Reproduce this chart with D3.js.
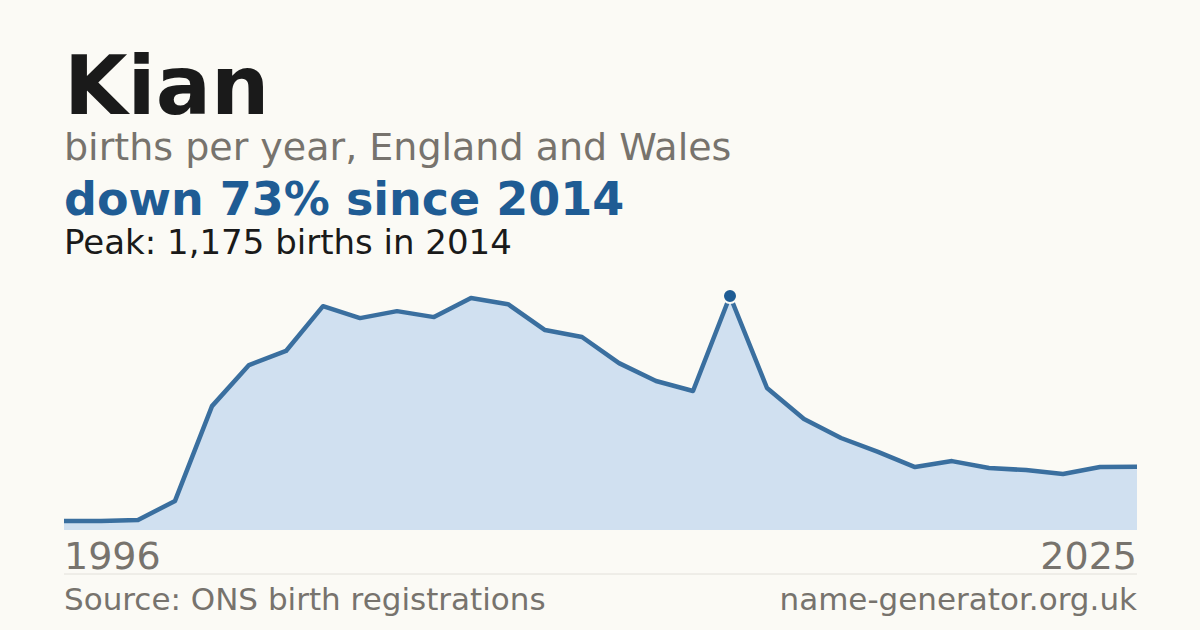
<!DOCTYPE html>
<html><head><meta charset="utf-8">
<script src="https://cdn.jsdelivr.net/npm/d3@7"></script>
<style>body{margin:0;background:#fbfaf5}</style></head>
<body><svg id="c" width="1200" height="630"></svg>
<script>
const years = d3.range(1996, 2026);
const births = [45,45,50,146,622,828,899,1124,1064,1099,1069,1165,1134,1004,969,838,748,698,1175,713,557,462,392,316,346,311,301,281,316,317];
const axisLabels = ["1996","2025"];
const svg = d3.select("#c");
const F = "DejaVu Sans, sans-serif";
svg.append("rect").attr("width",1200).attr("height",630).attr("fill","#fbfaf5");
const x = d3.scaleLinear().domain([1996,2025]).range([64,1137]);
const y = d3.scaleLinear().domain([0,1175]).range([530,296]);
const data = years.map((yr,i)=>({yr,v:births[i]}));
svg.append("path").datum(data).attr("fill","#d0e0f0")
  .attr("d",d3.area().x(d=>x(d.yr)).y0(y(0)).y1(d=>y(d.v)));
svg.append("path").datum(data).attr("fill","none").attr("stroke","#3a6f9f").attr("stroke-width",4.5)
  .attr("stroke-linejoin","round").attr("d",d3.line().x(d=>x(d.yr)).y(d=>y(d.v)));
svg.append("circle").attr("cx",x(2014)).attr("cy",y(1175)).attr("r",7).attr("fill","#1f5c94").attr("stroke","#fbfaf5").attr("stroke-width",2);
svg.append("line").attr("x1",64).attr("x2",1137).attr("y1",574).attr("y2",574).attr("stroke","#e2e0da");
const t=(s,xx,yy,sz,col,w,anchor)=>svg.append("text").text(s).attr("x",xx).attr("y",yy).attr("font-family",F)
  .attr("font-size",sz).attr("fill",col).attr("font-weight",w||"normal").attr("text-anchor",anchor||"start");
t("Kian",64,114,82,"#1a1a1a","bold");
t("births per year, England and Wales",64,160,38,"#77736d");
t("down 73% since 2014",64,215,46,"#1f5c94","bold");
t("Peak: 1,175 births in 2014",64,254,34,"#1a1a1a");
t(axisLabels[0],64,569,38,"#77736d");
t(axisLabels[1],1137,569,38,"#77736d",null,"end");
t("Source: ONS birth registrations",64,610,31,"#77736d");
t("name-generator.org.uk",1137,610,31,"#77736d",null,"end");
</script></body></html>
